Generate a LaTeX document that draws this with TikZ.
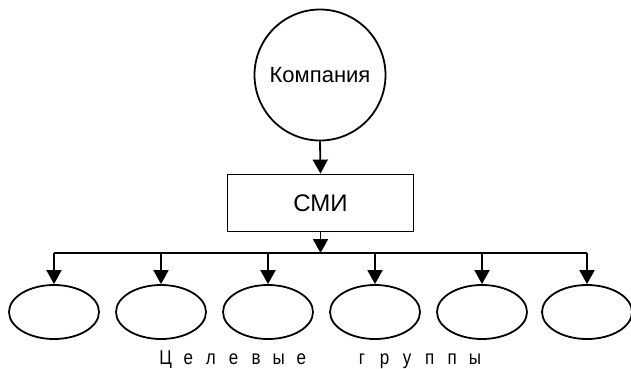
\documentclass[tikz,border=0pt]{standalone}
\usepackage{fontspec}
\setmainfont{Liberation Sans}
\newfontfamily\narrowfont{Liberation Sans}[FakeStretch=0.85]
\usetikzlibrary{arrows.meta,shapes.geometric}
\newcommand\lb[1]{\makebox[22.6pt]{#1}}
\begin{document}
\begin{tikzpicture}[x=1pt,y=-1pt,
  line width=1.8pt,
  arr/.style={-{Triangle[length=14pt,width=15pt]}},
  grp/.style={draw,ellipse,minimum width=90pt,minimum height=54pt,inner sep=0pt}]
\useasboundingbox (0,0) rectangle (631,368);
\node[draw,circle,minimum size=131pt,inner sep=0pt,font=\fontsize{22}{24}\selectfont] (comp) at (320,75) {Компания};
\node[draw,rectangle,minimum width=186pt,minimum height=57pt,inner sep=0pt,font=\fontsize{24}{26}\selectfont] (smi) at (320.5,203) {СМИ};
\foreach \i/\x in {1/54,2/161,3/268,4/375,5/482,6/587}{
  \node[grp] (g\i) at (\x,312) {};
}
\coordinate (busL) at (54,253);
\coordinate (busR) at (587,253);
\coordinate (busM) at (320.5,253);
\draw[arr] (comp.south) -- (smi.north);
\draw[arr] (smi.south) -- (busM);
\draw (busL) -- (busR);
\foreach \i in {1,...,6}{
  \draw[arr] (g\i.north |- busL) -- (g\i.north);
}
\node[anchor=base west,inner sep=0pt,font=\narrowfont\fontsize{20}{22}\selectfont] (label) at (153.5,364)
  {\lb{Ц}\lb{е}\lb{л}\lb{е}\lb{в}\lb{ы}\lb{е}\hspace{38pt}\lb{г}\lb{р}\lb{у}\lb{п}\lb{п}\lb{ы}};
\end{tikzpicture}
\end{document}
